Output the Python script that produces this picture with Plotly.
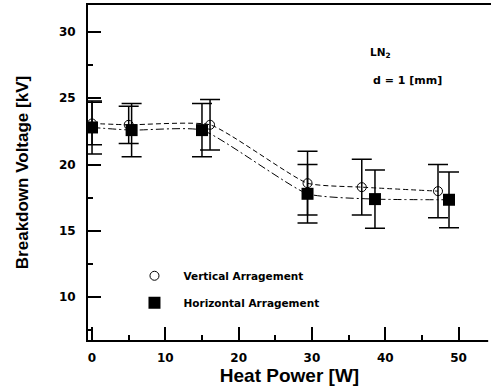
import plotly.graph_objects as go

# Data
vert_x = [0.0, 5.0, 16.1, 29.4, 36.8, 47.2]
vert_y = [23.1, 23.0, 23.0, 18.6, 18.3, 18.0]
vert_err = [1.6, 1.4, 1.9, 2.4, 2.1, 2.0]

horz_x = [0.0, 5.4, 15.0, 29.4, 38.6, 48.7]
horz_y = [22.8, 22.6, 22.6, 17.8, 17.4, 17.35]
horz_err = [2.0, 2.0, 2.0, 2.2, 2.2, 2.1]

x_title = "Heat Power [W]"
y_title = "Breakdown Voltage [kV]"
leg_vert = "Vertical Arragement"
leg_horz = "Horizontal Arragement"

fig = go.Figure()

fig.add_trace(go.Scatter(
    x=vert_x, y=vert_y, mode="lines+markers", showlegend=False,
    line=dict(color="black", width=1, dash="5px,3px", shape="spline", smoothing=0.5),
    marker=dict(symbol="circle-open", size=9, color="black", line=dict(width=1)),
    error_y=dict(type="data", array=vert_err, color="black", thickness=1.5, width=10),
))
fig.add_trace(go.Scatter(
    x=horz_x, y=horz_y, mode="lines+markers", showlegend=False,
    line=dict(color="black", width=1, dash="8px,3px,2px,3px", shape="spline", smoothing=0.5),
    marker=dict(symbol="square", size=12, color="black"),
    error_y=dict(type="data", array=horz_err, color="black", thickness=1.5, width=10),
))
# legend-only entries
fig.add_trace(go.Scatter(
    x=[None], y=[None], mode="markers", name=leg_vert, legendgroup="v",
    marker=dict(symbol="circle-open", size=9, color="black", line=dict(width=1)),
))
fig.add_trace(go.Scatter(
    x=[None], y=[None], mode="markers", name=leg_horz, legendgroup="h",
    marker=dict(symbol="square", size=12, color="black"),
))

fig.update_layout(
    template="none",
    width=491, height=387,
    margin=dict(l=88, r=0, t=5, b=47),
    paper_bgcolor="white", plot_bgcolor="white",
    font=dict(family="DejaVu Sans", color="black"),
    legend=dict(x=0.093, y=0.235, xanchor="left", yanchor="top",
                bgcolor="rgba(0,0,0,0)", tracegroupgap=8, itemwidth=48,
                font=dict(family="DejaVu Sans", size=10.5, color="black", weight="bold")),
    xaxis=dict(
        range=[-0.55, 54.43], dtick=10, tick0=0,
        showgrid=False, zeroline=False,
        showline=True, linecolor="black", linewidth=2, mirror=True,
        ticks="inside", ticklen=13, tickwidth=2, tickcolor="black",
        minor=dict(dtick=5, ticks="inside", ticklen=5, tickwidth=1.5, tickcolor="black", showgrid=False),
        tickfont=dict(family="DejaVu Sans", size=12, weight="bold"),
        ticklabelstandoff=6,
        title=dict(text=x_title, standoff=0,
                   font=dict(family="Liberation Sans", size=19, weight="bold")),
    ),
    yaxis=dict(
        range=[6.78, 32.03], dtick=5, tick0=0,
        showgrid=False, zeroline=False,
        showline=True, linecolor="black", linewidth=2, mirror=False,
        ticks="inside", ticklen=13, tickwidth=2, tickcolor="black",
        minor=dict(dtick=2.5, ticks="inside", ticklen=5, tickwidth=1.5, tickcolor="black", showgrid=False),
        tickfont=dict(family="DejaVu Sans", size=12, weight="bold"),
        ticklabelstandoff=8,
        title=dict(text=y_title, standoff=26,
                   font=dict(family="Liberation Sans", size=17, weight="bold")),
    ),
    # white strip hiding the stray border at the plot's right edge
    shapes=[dict(type="rect", xref="paper", yref="paper", x0=0.993, x1=1.0, y0=-0.02, y1=0.994,
                 fillcolor="white", line=dict(width=0), layer="above")],
)
fig.add_annotation(x=0.695, y=0.885, xref="paper", yref="paper", xanchor="left",
                   text="LN<sub>2</sub>", showarrow=False,
                   font=dict(family="DejaVu Sans", size=10.5, weight="bold"))
fig.add_annotation(x=0.703, y=0.8, xref="paper", yref="paper", xanchor="left",
                   text="d = 1 [mm]", showarrow=False,
                   font=dict(family="DejaVu Sans", size=11, weight="bold"))

fig.write_html("out.html")
